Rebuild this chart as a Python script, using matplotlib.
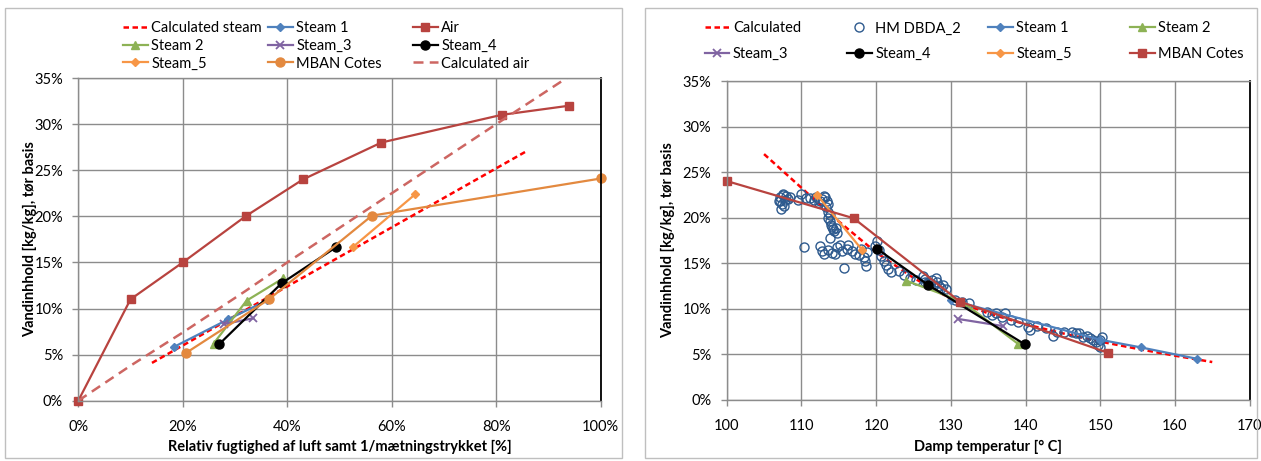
import matplotlib
matplotlib.use("Agg")
import matplotlib.pyplot as plt
from matplotlib.legend import Legend
from matplotlib.patches import Rectangle
from matplotlib.ticker import PercentFormatter

plt.rcParams['font.family'] = ['Lato', 'DejaVu Sans']

# ---------------- Left chart data ----------------
calc_steam_x = [0.141, 0.859]
calc_steam_y = [0.041, 0.271]
steam1_x = [0.184, 0.287, 0.362]
steam1_y = [0.0586, 0.0883, 0.109]
air_x = [0.0, 0.10, 0.20, 0.32, 0.43, 0.58, 0.81, 0.94]
air_y = [0.0, 0.11, 0.15, 0.20, 0.24, 0.28, 0.31, 0.32]
steam2_x = [0.259, 0.322, 0.392]
steam2_y = [0.062, 0.1085, 0.1327]
steam3_x = [0.278, 0.335]
steam3_y = [0.083, 0.0894]
steam4_x = [0.2695, 0.389, 0.493]
steam4_y = [0.0612, 0.1273, 0.1664]
steam5_x = [0.525, 0.645]
steam5_y = [0.1664, 0.224]
mban_x = [0.2067, 0.365, 0.562, 1.0]
mban_y = [0.052, 0.110, 0.2007, 0.241]
calc_air_x = [0.0, 0.10, 0.20, 0.32, 0.40, 0.60, 0.80, 0.94]
calc_air_y = [0.0, 0.038, 0.074, 0.119, 0.150, 0.225, 0.300, 0.352]

left_xticks = [0.0, 0.2, 0.4, 0.6, 0.8, 1.0]
y_ticks = [0.0, 0.05, 0.10, 0.15, 0.20, 0.25, 0.30, 0.35]

# ---------------- Right chart data ----------------
calc_T = [105, 110, 115, 120, 125, 130, 135, 140, 145, 150, 155, 160, 165]
calc_w = [0.270, 0.233, 0.196, 0.162, 0.134, 0.111, 0.095, 0.083, 0.073, 0.064, 0.056, 0.0485, 0.0415]

hm_T = [107.0, 107.2, 107.4, 107.6, 107.8, 107.3, 107.5, 108.0, 107.2, 107.7, 108.2,
        108.5, 109.5, 110.0, 110.6, 111.2, 111.7, 112.0, 112.5, 112.8, 113.0, 112.3,
        113.2, 113.4, 113.3, 113.5, 113.6, 113.8, 114.0, 114.2, 114.4, 114.6, 114.8, 113.8, 113.5, 114.1,
        113.8, 110.3, 115.7,
        112.5, 112.8, 113.0, 113.5, 114.1, 114.8, 115.2, 115.5, 116.1, 116.8, 117.2, 117.7, 118.0,
        118.4, 118.8, 118.5, 118.7, 116.3, 114.5,
        120.1, 119.9, 120.4, 120.6, 121.0, 121.3, 121.6, 122.0, 123.0, 123.8, 124.6, 125.3,
        126.3, 126.6, 126.9, 127.2, 127.5, 127.8, 128.1, 128.4, 128.7, 129.0, 126.5, 129.3, 128.0,
        130.5, 131.5, 132.5,
        134.8, 135.5, 136.1, 136.8, 137.3, 138.1, 139.0, 140.4, 140.6, 141.5, 142.8, 143.7, 144.2,
        145.1, 146.2, 146.8, 147.1, 147.7, 148.2, 148.6, 149.1, 149.5, 149.75, 150.0, 150.2, 150.0]
hm_w = [0.218, 0.223, 0.215, 0.225, 0.220, 0.210, 0.226, 0.224, 0.219, 0.213, 0.221,
        0.223, 0.220, 0.226, 0.222, 0.222, 0.220, 0.223, 0.219, 0.221, 0.224, 0.216,
        0.223, 0.218, 0.212, 0.206, 0.200, 0.196, 0.192, 0.188, 0.185, 0.189, 0.183, 0.203, 0.215, 0.190,
        0.178, 0.168, 0.145,
        0.169, 0.163, 0.160, 0.165, 0.161, 0.168, 0.170, 0.164, 0.166, 0.163, 0.160, 0.159, 0.166,
        0.157, 0.162, 0.152, 0.147, 0.170, 0.160,
        0.175, 0.169, 0.165, 0.158, 0.153, 0.148, 0.144, 0.140, 0.142, 0.137, 0.134, 0.132,
        0.136, 0.133, 0.130, 0.128, 0.132, 0.126, 0.129, 0.125, 0.123, 0.126, 0.129, 0.122, 0.134,
        0.110, 0.108, 0.106,
        0.097, 0.093, 0.095, 0.091, 0.095, 0.088, 0.086, 0.080, 0.077, 0.081, 0.079, 0.070, 0.075,
        0.075, 0.075, 0.073, 0.073, 0.069, 0.070, 0.0675, 0.066, 0.064, 0.060, 0.066, 0.069, 0.058]

r_steam1_T = [130.0, 150.0, 155.5, 163.0]
r_steam1_w = [0.1096, 0.066, 0.0575, 0.045]
r_steam2_T = [124.0, 131.5, 139.0]
r_steam2_w = [0.131, 0.108, 0.0615]
r_steam3_T = [131.0, 137.0]
r_steam3_w = [0.0888, 0.081]
r_steam4_T = [120.1, 127.0, 139.9]
r_steam4_w = [0.166, 0.126, 0.061]
r_steam5_T = [112.1, 118.1]
r_steam5_w = [0.225, 0.165]
r_mban_T = [100.0, 117.0, 131.2, 151.0]
r_mban_w = [0.2404, 0.1995, 0.108, 0.0518]

right_xticks = [100, 110, 120, 130, 140, 150, 160, 170]

# ---------------- Styling ----------------
C_RED = '#FF0000'
C_BLUE = '#4F81BD'
C_AIR = '#B8433F'
C_GREEN = '#8DB255'
C_PURPLE = '#8064A2'
C_BLACK = '#000000'
C_ORANGE_L = '#F79646'
C_ORANGE = '#E3893F'
C_CAIR = '#CD6662'
C_HM = '#2E5A8E'
GRID = '#8C8C8C'
FS = 10.5
LW = 1.6

W, H = 1261, 461
fig = plt.figure(figsize=(W / 100, H / 100), dpi=100)

# chart-area borders
for (x0, x1) in [(5, 622), (645, 1257)]:
    fig.patches.append(Rectangle((x0 / W, 1 - 458 / H), (x1 - x0) / W, (458 - 8) / H,
                                 transform=fig.transFigure, fill=False,
                                 edgecolor='#BFBFBF', linewidth=1.0))

def px_axes(l, r, t, b):
    return fig.add_axes([l / W, 1 - b / H, (r - l) / W, (b - t) / H])

axL = px_axes(78.3, 600.8, 78.0, 400.7)
axR = px_axes(726.7, 1249.6, 81.3, 399.8)

def style(ax):
    ax.set_axisbelow(True)
    ax.grid(True, color=GRID, linewidth=1.0)
    for s in ['left', 'bottom', 'top']:
        ax.spines[s].set_color(GRID)
        ax.spines[s].set_linewidth(1.0)
    ax.spines['right'].set_color('#000000')
    ax.spines['right'].set_linewidth(1.3)
    ax.tick_params(axis='both', direction='out', length=4, width=1.0, color=GRID,
                   labelsize=FS, labelcolor='#000000')
    ax.tick_params(axis='x', pad=10)
    ax.tick_params(axis='y', pad=7)
    ax.set_yticks(y_ticks)
    ax.set_ylim(0, 0.35)
    ax.yaxis.set_major_formatter(PercentFormatter(1.0, decimals=0))

# ---------------- Left chart ----------------
hL = {}
hL['Calculated steam'], = axL.plot(calc_steam_x, calc_steam_y, color=C_RED, lw=1.8,
                                   dashes=(2.2, 1.4), label='Calculated steam')
hL['Steam 1'], = axL.plot(steam1_x, steam1_y, color=C_BLUE, lw=LW, marker='D', ms=4.5,
                          label='Steam 1')
hL['Air'], = axL.plot(air_x, air_y, color=C_AIR, lw=LW, marker='s', ms=6, label='Air',
                      clip_on=False)
hL['Steam 2'], = axL.plot(steam2_x, steam2_y, color=C_GREEN, lw=LW, marker='^', ms=6,
                          label='Steam 2')
hL['Steam_3'], = axL.plot(steam3_x, steam3_y, color=C_PURPLE, lw=LW, marker='x', ms=6,
                          mew=1.3, label='Steam_3')
hL['Steam_4'], = axL.plot(steam4_x, steam4_y, color=C_BLACK, lw=LW, marker='o', ms=6.5,
                          label='Steam_4')
hL['Steam_5'], = axL.plot(steam5_x, steam5_y, color=C_ORANGE_L, lw=LW, marker='D', ms=4.5,
                          label='Steam_5')
hL['MBAN Cotes'], = axL.plot(mban_x, mban_y, color=C_ORANGE, lw=LW, marker='o', ms=6.5,
                             label='MBAN Cotes', clip_on=False)
hL['Calculated air'], = axL.plot(calc_air_x, calc_air_y, color=C_CAIR, lw=1.8,
                                 dashes=(4, 2.5), label='Calculated air')

axL.set_xlim(0, 1.0)
axL.set_xticks(left_xticks)
style(axL)
axL.xaxis.set_major_formatter(PercentFormatter(1.0, decimals=0))
axL.set_xlabel('Relativ fugtighed af luft samt 1/mætningstrykket [%]', fontsize=FS,
               fontweight='bold')
axL.set_ylabel('Vandinhhold [kg/kg], tør basis', fontsize=FS, fontweight='bold')
axL.xaxis.set_label_coords(0.5, -(440 - 400.7) / (400.7 - 78.0), transform=axL.transAxes)
axL.yaxis.set_label_coords(-(78.3 - 37) / (600.8 - 78.3), 0.5, transform=axL.transAxes)

# ---------------- Right chart ----------------
hR = {}
hR['Calculated'], = axR.plot(calc_T, calc_w, color=C_RED, lw=1.8, dashes=(2.2, 1.4),
                             label='Calculated')
hR['HM DBDA_2'], = axR.plot(hm_T, hm_w, ls='none', marker='o', ms=6.5, mfc='none',
                            mec=C_HM, mew=1.0, label='HM DBDA_2')
hR['Steam 1'], = axR.plot(r_steam1_T, r_steam1_w, color=C_BLUE, lw=LW, marker='D', ms=4.5,
                          label='Steam 1')
hR['Steam 2'], = axR.plot(r_steam2_T, r_steam2_w, color=C_GREEN, lw=LW, marker='^', ms=6,
                          label='Steam 2')
hR['Steam_3'], = axR.plot(r_steam3_T, r_steam3_w, color=C_PURPLE, lw=LW, marker='x', ms=6,
                          mew=1.3, label='Steam_3')
hR['Steam_4'], = axR.plot(r_steam4_T, r_steam4_w, color=C_BLACK, lw=LW, marker='o', ms=6.5,
                          label='Steam_4')
hR['Steam_5'], = axR.plot(r_steam5_T, r_steam5_w, color=C_ORANGE_L, lw=LW, marker='D', ms=4.5,
                          label='Steam_5')
hR['MBAN Cotes'], = axR.plot(r_mban_T, r_mban_w, color=C_AIR, lw=LW, marker='s', ms=6,
                             label='MBAN Cotes', clip_on=False)

axR.set_xlim(100, 170)
axR.set_xticks(right_xticks)
style(axR)
axR.set_xlabel('Damp temperatur [° C]', fontsize=FS, fontweight='bold')
axR.set_ylabel('Vandinhhold [kg/kg], tør basis', fontsize=FS, fontweight='bold')
axR.xaxis.set_label_coords(0.5, -(440 - 399.8) / (399.8 - 81.3), transform=axR.transAxes)
axR.yaxis.set_label_coords(-(726.7 - 675) / (1249.6 - 726.7), 0.5, transform=axR.transAxes)

# ---------------- Legends (one legend per column, Excel-like layout) ----------------
def column_legend(ax, handles, x_px, top_px, spacing):
    leg = Legend(ax, handles, [h.get_label() for h in handles],
                 loc='upper left', bbox_to_anchor=(x_px / W, 1 - top_px / H),
                 bbox_transform=fig.transFigure, frameon=False, fontsize=FS,
                 borderpad=0, borderaxespad=0, handlelength=1.7, handletextpad=0.25,
                 labelspacing=spacing, numpoints=1)
    ax.add_artist(leg)
    return leg

left_cols = [['Calculated steam', 'Steam 2', 'Steam_5'],
             ['Steam 1', 'Steam_3', 'MBAN Cotes'],
             ['Air', 'Steam_4', 'Calculated air']]
for names, xp in zip(left_cols, [123, 268, 413]):
    column_legend(axL, [hL[n] for n in names], xp, 21.5, 0.24)

right_cols = [['Calculated', 'Steam_3'], ['HM DBDA_2', 'Steam_4'],
              ['Steam 1', 'Steam_5'], ['Steam 2', 'MBAN Cotes']]
for names, xp in zip(right_cols, [704.6, 847, 988, 1130]):
    column_legend(axR, [hR[n] for n in names], xp, 21.5, 0.78)

fig.savefig('out.png', dpi=100)
